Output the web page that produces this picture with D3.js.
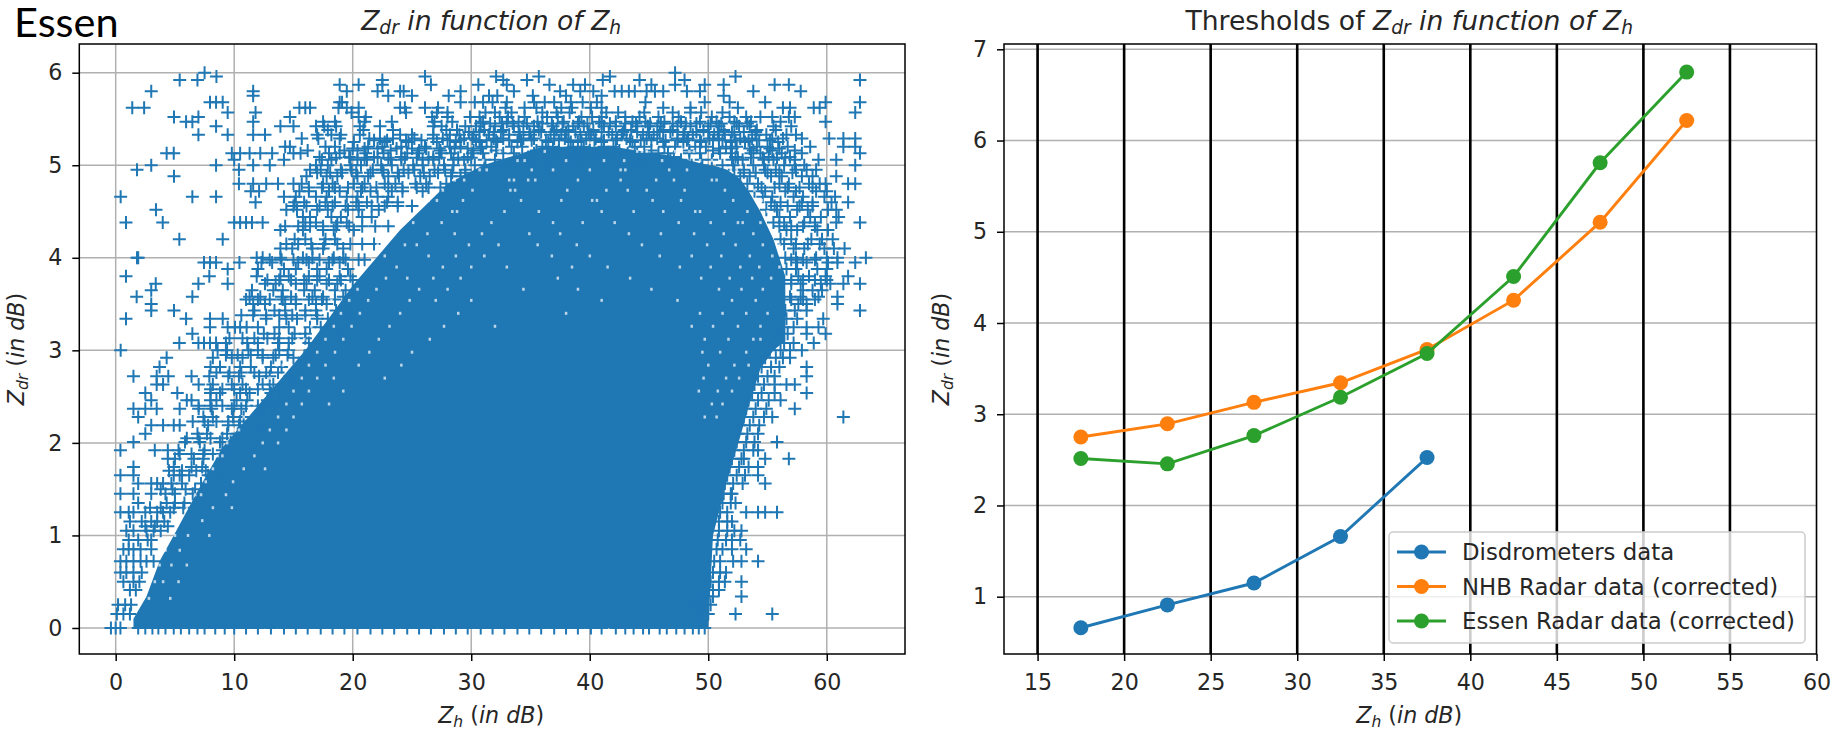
<!DOCTYPE html>
<html>
<head>
<meta charset="utf-8">
<script src="https://cdn.jsdelivr.net/npm/d3@7"></script>
<style>
  html, body { margin: 0; padding: 0; background: #fff; }
  svg { display: block; }
  text { font-family: "DejaVu Sans", sans-serif; fill: #262626; }
</style>
</head>
<body>
<script>
// Right panel data
var binCentres = [17.5, 22.5, 27.5, 32.5, 37.5, 42.5, 47.5, 52.5];
var disdrometers = [0.66, 0.91, 1.15, 1.66, 2.525];
var nhbRadar = [2.75, 2.895, 3.13, 3.345, 3.71, 4.25, 5.105, 6.22];
var essenRadar = [2.515, 2.456, 2.766, 3.186, 3.665, 4.51, 5.756, 6.75];
var seriesNames = ["Disdrometers data", "NHB Radar data (corrected)", "Essen Radar data (corrected)"];
var seriesColors = ["#1f77b4", "#ff7f0e", "#2ca02c"];
var thresholdLines = [15, 20, 25, 30, 35, 40, 45, 50, 55];

// Tick labels
var leftXTicks = [0, 10, 20, 30, 40, 50, 60];
var leftYTicks = [0, 1, 2, 3, 4, 5, 6];
var rightXTicks = [15, 20, 25, 30, 35, 40, 45, 50, 55, 60];
var rightYTicks = [1, 2, 3, 4, 5, 6, 7];

// The reference has far too many overlapping crosses to read one by one.
// The saturated mass is an outline (top and bottom per Zh).
var massZh = [1.5, 2.6, 3.7, 4.9, 7, 9, 12, 14, 16, 18, 20, 22, 24, 26, 28, 31, 36, 42, 47, 50, 50.4, 51.6, 52.7, 53.5, 54.4, 55.5, 56.5];
var massTop = [0.1, 0.34, 0.72, 1.0, 1.5, 1.95, 2.4, 2.7, 3.0, 3.35, 3.7, 4.0, 4.3, 4.55, 4.8, 5.0, 5.2, 5.2, 5.1, 5.0, 5.0, 4.95, 4.85, 4.7, 4.5, 4.2, 3.8];
var massBottom = [0, 0, 0, 0, 0, 0, 0, 0, 0, 0, 0, 0, 0, 0, 0, 0, 0, 0, 0, 0, 1.0, 1.6, 2.07, 2.43, 2.8, 3.0, 3.1];

// Visible crosses, estimated row by row: one Zdr level, then the Zh of its crosses
var rowZdr = [6.0, 5.96, 5.92, 5.87, 5.8, 5.75, 5.68, 5.62, 5.57, 5.52, 5.47, 5.42, 5.38, 5.33, 5.29, 5.25, 5.2, 5.16, 5.13, 5.09, 5.06, 5.0, 4.95, 4.88, 4.8, 4.72, 4.66, 4.6, 4.52, 4.44, 4.38, 4.3, 4.2, 4.1, 4.0, 3.95, 3.88, 3.8, 3.72, 3.65, 3.58, 3.5, 3.43, 3.34, 3.25, 3.18, 3.08, 3.0, 2.92, 2.82, 2.72, 2.63, 2.54, 2.46, 2.37, 2.28, 2.19, 2.1, 2.01, 1.92, 1.83, 1.74, 1.65, 1.56, 1.45, 1.35, 1.25, 1.15, 1.05, 0.95, 0.85, 0.72, 0.6, 0.5, 0.41, 0.34, 0.25, 0.15, 0];
var rowZh = [
  [7.5, 47.2],
  [8.5, 26.1, 32.1, 35.7, 41.7, 52.3],
  [5.4, 6.9, 22.5, 32.7, 34.7, 41.1, 44.2, 48, 62.8],
  [18.9, 20.5, 22.5, 26.6, 30.6, 33, 36.6, 38.6, 39.6, 45.2, 47.2, 49.7, 51.3, 55.6, 56.8],
  [3, 11.6, 19.5, 22.1, 24, 24.3, 29.1, 33.6, 37.5, 39.2, 40.3, 42.1, 42.7, 43.3, 43.8, 44.8, 45.5, 46.2, 48.2, 49.3, 53.8, 57.8],
  [11.6, 23, 25, 28.1, 31.5, 32.2, 35.2, 38, 41, 51.3],
  [7.96, 8.47, 9.03, 18.9, 19.1, 29.1, 30.3, 31, 31.8, 33, 35.3, 36.2, 37, 38.4, 39.4, 40.6, 44.7, 49.7, 51.8, 54.8, 59.9, 62.8],
  [1.4, 2.4, 15.5, 16, 16.4, 18.8, 19.5, 20.5, 24, 24.4, 26.1, 27.2, 32.9, 34.5, 35.5, 37.6, 38.5, 40.1, 41, 46.2, 48.5, 52.5, 56.3, 56.9, 58.9, 59.4],
  [9.45, 11.8, 19.9, 24.5, 27.1, 28, 31.2, 32, 33.4, 36, 37.2, 38.3, 41.4, 42.4, 44.6, 47, 48.5, 49.4, 51.2, 62.4],
  [4.92, 6.98, 14.7, 20.5, 21.1, 26.7, 28, 29.9, 30.7, 32.4, 33.1, 34.5, 36.4, 37.3, 39.3, 40.2, 41, 43, 44.2, 45.8, 47.5, 50.3, 51.8, 53.2, 54.4, 55.4, 56.8, 57.3],
  [5.94, 6.47, 11.6, 17.5, 18.5, 21, 23.3, 26.9, 28.4, 31, 33, 34, 35.6, 37.8, 39.1, 40.8, 42.2, 43.6, 44.7, 46.3, 47.7, 49.3, 50.7, 52.2, 53.6, 56.1, 59.9],
  [8.47, 13.9, 15, 16.9, 17.6, 18.6, 20.6, 22.3, 26.8, 27.5, 29.5, 30.4, 32, 33.6, 34.4, 35.3, 36.9, 38.6, 39.5, 41.2, 42.2, 44, 44.9, 45.7, 47.4, 48.5, 50, 50.9, 52.6, 53.5, 55.5, 57],
  [17.9, 20.9, 23.4, 27.9, 28.8, 31.1, 32.7, 35.7, 37.2, 38.2, 40.3, 42.9, 43.5, 46.2, 47, 49.6, 51.3, 54.1, 55.7],
  [6.98, 9.45, 11.6, 12.6, 17, 18.2, 19, 20.6, 24, 25, 26.8, 28.2, 29, 30.2, 31.5, 33.2, 34.1, 35, 36.7, 37.6, 39.2, 40.1, 41.9, 42.7, 44.5, 45.4, 47.9, 48.7, 50.5, 51.4, 52.2, 54, 54.9, 56.6, 57.4],
  [15.7, 17.1, 18.9, 21.4, 22.3, 23.4, 25.2, 26.8, 27.6, 29.4, 30.1, 31.9, 32.7, 34.4, 35.3, 37, 37.9, 39.7, 40.5, 42.3, 43.1, 44.8, 45.7, 47.4, 48.3, 50.1, 50.9, 52.7, 53.7, 55.4, 56.3, 57.9, 60.2, 61.4, 62.4],
  [20.1, 22.7, 24.7, 27.1, 28.7, 30.7, 32.2, 33.9, 36.5, 38.4, 39, 41, 43.6, 46.2, 47.9, 49.4, 51.9, 53.1, 55.9],
  [14.3, 14.7, 17.7, 18.5, 21.3, 22.5, 24.1, 26.1, 28.2, 29.1, 30.9, 31.7, 33.4, 34.3, 36, 36.9, 38.6, 39.5, 41.2, 42, 43.8, 44.6, 46.3, 47.2, 48.9, 49.8, 51.5, 52.4, 54.1, 55, 56.7, 58.6, 61.4, 62.4],
  [16.2, 19.3, 20.4, 23.2, 25.6, 27.4, 30.2, 32.1, 35.5, 37.4, 40, 42.5, 45.2, 48.4, 50.4, 53.8, 55.4, 57.3],
  [4.3, 4.9, 9.8, 10.5, 11.3, 12.2, 13.2, 15, 15.6, 18, 18.9, 21.1, 22.6, 24.6, 25.5, 27.5, 28.3, 30.1, 31, 32.7, 33.6, 35.3, 36.2, 37.9, 38.8, 40.6, 41.4, 43.2, 44, 45.8, 46.6, 48.4, 49.3, 51, 51.9, 53.6, 54.4, 56.2, 57.9, 62.8],
  [17.2, 19.7, 21.8, 24.1, 26.8, 29.7, 34.8, 39.3, 43.9, 47.1, 52.3, 55.1, 56.9],
  [10, 14.2, 17.4, 18.2, 20.4, 21.2, 23.2, 24.1, 25.9, 26.8, 28.5, 29.4, 31.1, 32, 33.8, 34.6, 36.4, 37.2, 39, 39.9, 41.6, 42.5, 44.2, 45.1, 46.8, 47.7, 49.4, 50.3, 52, 52.9, 54.7, 55.5, 57.3, 59.3, 60.8],
  [3, 8.47, 11.6, 13, 16.9, 17.9, 19.8, 20.7, 22.4, 23.3, 25.1, 25.9, 27.7, 28.5, 30.3, 31.2, 32.9, 33.8, 35.5, 36.4, 38.1, 39, 40.7, 41.6, 43.4, 44.2, 46, 46.8, 48.6, 49.5, 51.2, 52.1, 53.8, 54.7, 56.4, 57.3, 58.1, 62.4],
  [1.8, 10.4, 16.4, 17.3, 19, 19.9, 21.7, 22.5, 24.3, 25.2, 26.9, 27.8, 29.5, 52.2, 53, 54.8, 55.7, 57.4, 58.3, 59.1],
  [4.92, 16.1, 17.8, 18.7, 20.4, 21.3, 23, 23.9, 25.7, 26.5, 28.3, 29.1, 52.7, 53.5, 55.3, 56.2, 57.9, 58.8, 60.8],
  [10.4, 11.6, 12.7, 13.7, 15, 15.7, 17.5, 18.3, 20.1, 21, 22.7, 23.6, 25.3, 26.2, 27.9, 53.3, 54.2, 56, 56.8, 58.5, 59.4, 59.9, 61.8, 62.4],
  [11.4, 12.1, 15.5, 16.3, 18, 18.9, 20.7, 21.5, 23.3, 24.2, 25.9, 53.9, 54.8, 56.5, 57.4, 59.1, 60],
  [0.42, 6.47, 8.47, 14.2, 15.2, 16.9, 17.8, 19.5, 20.4, 22.1, 23, 54.6, 55.4, 57.2, 58, 59.8, 60.7],
  [11.8, 15.1, 15.9, 17.7, 18.5, 20.3, 21.2, 22.9, 23.8, 55.3, 56.1, 57.9, 58.8, 60.4, 61.8],
  [3.4, 14.4, 15.3, 17, 17.9, 19.6, 20.5, 22.2, 54.9, 55.8, 57.5, 58.4, 60.1, 60.8],
  [15.8, 16.4, 18.2, 19, 20.8, 21.6, 56, 56.9, 58.6, 59.5, 61],
  [0.87, 3.97, 10, 10.5, 11, 11.5, 12.4, 16, 16.9, 18.7, 19.5, 55.5, 56.4, 58.1, 59, 60.8, 62.8],
  [13.9, 15.8, 17.5, 18.4, 20.1, 56.6, 57.5, 59.2, 60.1],
  [5.37, 9.03, 15.1, 16, 17.7, 18.5, 56.1, 57, 58.7, 59.6, 60.5],
  [13.9, 14.9, 16.6, 17.5, 19.2, 57.2, 58.1, 59.8, 60.6, 61.5],
  [1.8, 1.9, 11.9, 12.4, 13.9, 15.8, 16.6, 18.4, 19.2, 56.5, 57.4, 59.1, 60, 60.9, 63.3],
  [7.45, 7.96, 8.47, 10.44, 12.3, 13.2, 15.4, 16.3, 18, 18.9, 57.5, 58.3, 60.1, 60.9, 62.4],
  [9.45, 12, 14.2, 15.2, 17, 17.8, 19.6, 56.6, 57.4, 59.2, 60],
  [0.87, 7.9, 11.9, 13.9, 14.6, 16.3, 17.2, 18.9, 19.8, 57.6, 58.5, 59.9, 61.8],
  [3.38, 6.98, 9.45, 12.6, 13.5, 15.2, 16.1, 17.8, 18.7, 57, 57.8, 59.5, 60.3, 61.4, 62.8],
  [3, 11.5, 13.3, 14.1, 15.9, 16.8, 18.5, 19.4, 58, 58.8, 59.6],
  [1.77, 6.47, 11.3, 12.2, 14, 14.8, 16.6, 17.5, 19.2, 56.9, 57.8, 59.3, 60.9],
  [3, 11.6, 12.6, 14.3, 15.2, 16.9, 17.8, 19.5, 57.6, 58.3, 60.9],
  [3, 4.92, 11.7, 13.4, 14.3, 16, 16.9, 18.6, 19.5, 56.5, 57.3, 58.3, 62.8],
  [0.87, 5.94, 7.96, 9.03, 12.7, 14.4, 15.3, 17, 17.9, 19.6, 56.6, 57.5, 59.7],
  [7.96, 9.45, 10.07, 10.5, 11.05, 12, 13.8, 14.6, 16.4, 17.3, 19, 56.4, 57.2, 58.3, 59.3],
  [6.47, 12.5, 13.4, 15.1, 16, 17.7, 18.6, 55.9, 56.7, 58.3, 59.9],
  [5.37, 6.98, 7.45, 7.96, 8.47, 9.3, 11.1, 12, 13.7, 14.6, 16.3, 17.2, 55.6, 56.4, 57.2, 58.9],
  [0.42, 8.6, 9.4, 11.2, 12, 13.8, 14.6, 16.4, 17.2, 55.2, 56.1, 56.9, 57.9],
  [4.3, 8.2, 9.8, 10.7, 12.4, 13.3, 15, 15.9, 54.8, 55.7, 56.3, 56.9],
  [3.7, 8, 8.8, 10.5, 11.4, 13.1, 14, 15.7, 54.5, 55.3, 56, 58.3],
  [1.5, 3.46, 4.44, 6.4, 7.9, 9.5, 10.4, 12.1, 13, 14.7, 15.6, 54.2, 55, 55.6, 58.3],
  [3.46, 4, 7, 8.2, 9.8, 10.7, 12.4, 13.3, 15, 53.9, 54.7, 55.6, 56.6, 57.3],
  [2.5, 5.2, 8, 8.8, 10.5, 11.3, 13.1, 13.9, 53.7, 54.5, 55.6, 58.3],
  [3, 6, 6.4, 8, 8.5, 10.2, 11.1, 12.8, 13.7, 53.4, 54.2, 55.1, 56.1],
  [1.5, 2.5, 3.46, 5.4, 7, 8.1, 9.8, 10.6, 12.4, 13.2, 53.2, 54, 54.9, 57.3],
  [1.9, 7.4, 8.2, 9.9, 10.8, 12.5, 53, 53.8, 54.7, 55.4, 61.4],
  [3, 4, 4.9, 5.4, 7.8, 9.5, 10.4, 12.1, 52.7, 53.5, 54.3],
  [2.5, 6.9, 7.7, 9.4, 10.3, 12, 52.5, 53.3, 54.2],
  [1.5, 5.85, 7.1, 8.8, 9.7, 11.4, 52.4, 53.2, 53.9, 55.8],
  [0.4, 3.3, 4.4, 5.3, 7.5, 9, 9.9, 11.6, 52.2, 53, 53.8, 54.2],
  [4.4, 5, 6.6, 7.4, 9, 9.8, 52, 52.8, 53, 54.8, 56.8],
  [1.5, 4.9, 6.4, 7.3, 8.9, 51.8, 52.6, 53.4, 54.2],
  [0.4, 1.5, 4.9, 5.4, 6.2, 7.8, 8.6, 51.6, 52.4, 53.1, 54.2],
  [1.9, 3, 3.5, 4, 4.7, 5.6, 7.2, 51.4, 52.1, 52.9, 54.8],
  [0.4, 1.5, 3, 4.2, 5, 6.5, 51.3, 52, 51.9],
  [1.9, 4.3, 5, 5.8, 51.2, 51.9, 52.3],
  [0.4, 1.1, 1.5, 2.5, 3.5, 4, 4.6, 51, 51.6, 55.8, 54.2, 54.8, 53.2],
  [1.2, 2.2, 3, 3.5, 4.1, 50.9, 51.6, 52],
  [0.9, 1.5, 2.6, 3.2, 3.8, 50.9, 51.6, 52.2, 52.8],
  [1.1, 1.9, 2.7, 3, 50.8, 51.5, 52, 52.7],
  [0.65, 1.1, 1.5, 2.1, 3, 50.7, 51.2, 52, 53.2],
  [0.4, 0.9, 1.5, 2.1, 2.6, 3.2, 50.5, 51, 52.1, 52.8, 54.2],
  [0.4, 0.9, 1.5, 2.2, 50.4, 51, 51.5],
  [0.65, 1.5, 2, 50.2, 50.9, 51.4, 52.8],
  [1.2, 1.7, 49.8, 50.4, 50.9],
  [49.3, 49.9, 50.4, 52.8],
  [0.2, 0.8, 1.3, 48.7, 49.2, 49.7, 50.2],
  [0.1, 0.65, 1.2, 48.5, 49, 49.5, 50, 52.3, 55.4],
  [-0.4, 0, 0.4, 1.9, 2.5, 3.1, 3.6, 4.2, 4.9, 5.5, 6.2, 6.9, 7.5, 8.4, 9.2, 10, 11, 12, 13.1, 14.2, 15.2, 16.2, 17.3, 18.3, 19.3, 20.4, 21.5, 22.5, 23.5, 24.6, 25.6, 26.6, 27.7, 28.7, 29.7, 30.8, 31.8, 32.8, 33.9, 34.9, 35.9, 37, 38, 39, 40.1, 41, 42.2, 43, 43.7, 44.5, 45, 45.9, 46.5, 47.3, 48, 48.7, 49.2, 49.7]
];

// Second pass over the denser mesh around the mass
var fillZdr = [5.45, 5.36, 5.27, 5.18, 5.08, 4.92, 4.76, 4.56, 4.34, 4.15, 3.98, 3.76, 3.55, 3.38, 3.13, 2.95, 2.76, 2.58, 2.4, 2.23, 2.05, 1.88, 1.7, 1.5, 1.3, 1.1];
var fillZh = [
  [30.8, 31.6, 32.6, 33.5, 34.7, 36, 36.8, 37.7, 39, 39.8, 41, 41.7, 43, 43.9, 45.1, 46, 47, 48.1, 49, 50.2, 51.1, 52.4, 53.3],
  [29.8, 30.7, 31.9, 32.5, 34, 34.9, 35.9, 37, 38, 38.8, 39.9, 41, 41.6, 42.8, 44, 45, 45.9, 46.8, 48, 49, 50, 50.8, 52, 53, 54],
  [21.8, 22.9, 24.5, 25.8, 28, 29.1, 30.4, 31.3, 32.1, 33.2, 34.2, 35.1, 36.3, 37.4, 38.2, 39.3, 40.4, 41.2, 42.2, 43.4, 44.3, 45.2, 46.4, 47.4, 48.2, 49.3, 50.4, 51.2, 52.3, 53.4, 54.3, 55.2],
  [20, 21, 22.1, 23.7, 25, 26.2, 27.3, 28.6, 29.7, 30.8, 50.9, 52, 53.5, 55.2, 56],
  [18.6, 19.8, 21, 22.1, 23, 24.4, 25.4, 26.4, 27.3, 28.9, 30, 52.5, 53.6, 54.6, 55.8, 56.5],
  [17, 18.1, 19.1, 20.3, 21.5, 22.6, 23.8, 24.7, 26, 27.2, 28.4, 29.5, 53, 54, 55, 56, 57.1],
  [16.3, 17.4, 18.5, 19.6, 20.8, 22, 23, 24.2, 25.4, 26.4, 27.4, 54.5, 55.6, 56.7, 57.7, 58.8],
  [15, 16.1, 17.2, 18.3, 19.4, 20.5, 21.6, 22.7, 23.8, 25, 55.6, 56.7, 57.7, 58.8],
  [14.3, 15.4, 16.4, 17.5, 18.6, 19.7, 20.8, 21.9, 23, 56, 57, 58, 59],
  [14.4, 15.4, 16.5, 17.6, 18.7, 19.8, 20.8, 21.8, 56.4, 57.4, 58.4, 59.4],
  [13, 14, 15, 16.1, 17.2, 18.3, 19.4, 20.5, 21, 57, 58, 59],
  [12.8, 13.8, 14.8, 15.9, 17, 18, 19, 20, 57, 58, 59, 60],
  [11, 12, 13, 14.1, 15.2, 16.3, 17.4, 18.5, 57, 58, 59],
  [10.6, 11.6, 12.7, 13.8, 14.9, 16, 17],
  [9.6, 10.7, 11.7, 12.8, 13.8, 14.9, 16],
  [9.3, 10.3, 11.4, 12.4, 13.5, 14.5],
  [8.5, 9.6, 10.6, 11.7, 12.7, 13.7],
  [8, 9, 10, 11, 12, 13],
  [7, 8, 9, 10, 11, 12],
  [6.5, 7.5, 8.5, 9.5, 10.5],
  [6, 7, 8, 9],
  [5.4, 6.4, 7.4, 8.2],
  [4.5, 5.6, 6.8, 7.6],
  [3.8, 4.8, 5.9, 6.7],
  [2.9, 3.8, 4.9, 5.7],
  [2.5, 3.3, 4.4]
];

// Small white gaps left between the crosses inside the mass, estimated the same way
var gapZdr = [5.15, 5.05, 4.95, 4.84, 4.73, 4.62, 4.5, 4.38, 4.26, 4.14, 4.02, 3.9, 3.78, 3.66, 3.54, 3.4, 3.26, 3.12, 2.98, 2.84, 2.7, 2.56, 2.42, 2.28, 2.14, 2, 1.86, 1.72, 1.58, 1.44, 1.3, 1.16, 1, 0.84, 0.68, 0.5, 0.32];
var gapZh = [
  [32.4, 33.1, 36.2, 44, 44.4, 44.8, 47.2, 48.4, 48.8],
  [31, 33.9, 34.5, 38, 41.2, 42.9, 46.1, 49.3, 50.3],
  [30.7, 31.3, 35.1, 36.9, 40, 42.6, 43, 46.7, 48.2, 51.9, 52.4],
  [28.6, 29.4, 33.2, 33.6, 34.8, 35.4, 39, 42.6, 45.6, 47.1, 50.3, 50.7, 53],
  [27.6, 30.1, 33.3, 33.7, 38.1, 41.4, 43.2, 44.8, 48, 51.4, 53.9],
  [26.4, 27.1, 29.3, 34.2, 37.6, 40.2, 40.6, 45.3, 47.7, 52.1, 54.5],
  [25.2, 28.4, 28.8, 32.8, 35.7, 41, 43.7, 46.2, 48.9, 49.3, 51.4, 53.3, 55],
  [24.3, 25.1, 27.5, 31.7, 36.9, 39.4, 42.1, 47.5, 50.2, 52.5, 52.9, 54.4],
  [23, 23.5, 26.3, 28.6, 30.9, 34.9, 37.5, 43.3, 46, 48.8, 51.3, 53.8, 55.6],
  [22.1, 24.4, 25.4, 29.8, 32.3, 35.6, 38.9, 44.4, 49.9, 52.3, 54.6, 56],
  [21.5, 22.7, 26.4, 28.7, 31.1, 36.8, 40, 45.9, 48.6, 51.1, 53.5, 55.4],
  [20.3, 20.8, 23.7, 27.6, 30, 33, 38.5, 41.5, 47.6, 50.2, 52.7, 54.3, 56],
  [19.6, 22.8, 24.6, 26.8, 29.1, 37.3, 43.4, 49.4, 51.8, 53.7, 55.3],
  [18.9, 20.4, 22, 25.6, 28, 34.4, 39, 45.2, 50.9, 52.8, 54.6],
  [18.2, 19.7, 21.3, 24.8, 27, 30, 41, 47.4, 52, 54],
  [17.3, 17.7, 19, 20.6, 24, 28.9, 38, 49.3, 51.2, 53.2, 55],
  [16.5, 18.4, 19.9, 23.1, 27.7, 32, 48.6, 50.4, 52.5, 54.4],
  [15.4, 15.9, 17.7, 19.2, 22.2, 26.5, 49.7, 51.7, 53.8, 54.4],
  [14.7, 17, 18.5, 21.4, 25, 49.5, 51, 53.2],
  [13.6, 14.1, 16.3, 17.7, 20.5, 24.1, 50, 52.2, 53.4],
  [13, 15.7, 17, 18.4, 22.7, 49.6, 51.5, 52.6],
  [12.3, 15, 16.3, 19.2, 49.2, 50.8, 52],
  [11.2, 11.7, 14.4, 15.7, 18, 50.3, 51.2],
  [10.8, 13.7, 15, 49.7, 50.7],
  [10, 10.4, 13, 14.4],
  [9.4, 12.4, 13.7],
  [8.6, 9, 11.7],
  [8.2, 10.8, 12.6],
  [7.6, 9.9],
  [6.7, 7.2, 9.3],
  [6, 8.2, 9.8],
  [5.3, 7.3],
  [5, 6.1, 7.9],
  [4.2, 5.4],
  [3.7, 4.7, 6],
  [3.3, 4, 5.3],
  [2.8, 4.6]
];

var width = 1839, height = 731;
var plotTop = 44, plotBottom = 654;
var tickLen = 7;
var blue = "#1f77b4";
var smallFont = "22.2px";

var svg = d3.select("body").append("svg")
    .attr("width", width)
    .attr("height", height);

// Corner label added on top of the figure
svg.append("text")
    .attr("x", 14)
    .attr("y", 37)
    .style("font-family", "Lato, sans-serif")
    .style("font-size", "41.5px")
    .style("fill", "#000")
    .text("Essen");

// Scales
var x1 = d3.scaleLinear().domain([-3.07, 66.6]).range([79.3, 905]);
var y1 = d3.scaleLinear().domain([-0.281, 6.31]).range([plotBottom, plotTop]);
var x2 = d3.scaleLinear().domain([13.06, 60]).range([1004, 1816.5]);
var y2 = d3.scaleLinear().domain([0.372, 7.058]).range([plotBottom, plotTop]);

// Writes Z_dr / Z_h style math into a text node
function mathText(sel, parts) {
  parts.forEach(function(p) {
    var t = sel.append("tspan").text(p.t);
    if (p.it) t.style("font-style", "italic");
    if (p.sub) {
      t.attr("baseline-shift", "-22%").style("font-size", "70%");
    }
  });
}

function drawFrame(x, y, xTicks, yTicks, titleParts, yPad) {
  var left = x.range()[0], right = x.range()[1];

  // Grid
  svg.append("g").selectAll("line").data(xTicks).enter().append("line")
      .attr("x1", function(d) {return x(d)})
      .attr("x2", function(d) {return x(d)})
      .attr("y1", plotTop)
      .attr("y2", plotBottom)
      .attr("stroke", "#b0b0b0")
      .attr("stroke-width", 1.5);
  svg.append("g").selectAll("line").data(yTicks).enter().append("line")
      .attr("x1", left)
      .attr("x2", right)
      .attr("y1", function(d) {return y(d)})
      .attr("y2", function(d) {return y(d)})
      .attr("stroke", "#b0b0b0")
      .attr("stroke-width", 1.5);

  // Title and axis labels
  var title = svg.append("text")
      .attr("x", (left + right) / 2 - 1)
      .attr("y", 30)
      .attr("text-anchor", "middle")
      .style("font-size", "26.6px");
  mathText(title, titleParts);

  var xl = svg.append("text")
      .attr("x", (left + right) / 2 - 1)
      .attr("y", 723)
      .attr("text-anchor", "middle")
      .style("font-size", smallFont);
  mathText(xl, [{t: "Z", it: 1}, {t: "h", it: 1, sub: 1}, {t: " (", it: 0}, {t: "in dB", it: 1}, {t: ")", it: 0}]);

  var yl = svg.append("text")
      .attr("transform", "translate(" + (left - yPad) + "," + ((plotTop + plotBottom) / 2) + ") rotate(-90)")
      .attr("text-anchor", "middle")
      .style("font-size", smallFont);
  mathText(yl, [{t: "Z", it: 1}, {t: "dr", it: 1, sub: 1}, {t: " (", it: 0}, {t: "in dB", it: 1}, {t: ")", it: 0}]);
}

function drawAxes(x, y, xTicks, yTicks) {
  var left = x.range()[0], right = x.range()[1];

  var gx = svg.append("g")
      .attr("transform", "translate(0," + plotBottom + ")")
      .call(d3.axisBottom(x).tickValues(xTicks).tickFormat(d3.format("d")).tickSize(tickLen).tickPadding(13).tickSizeOuter(0));
  var gy = svg.append("g")
      .attr("transform", "translate(" + left + ",0)")
      .call(d3.axisLeft(y).tickValues(yTicks).tickFormat(d3.format("d")).tickSize(tickLen).tickPadding(10).tickSizeOuter(0));
  [gx, gy].forEach(function(g) {
    g.select(".domain").remove();
    g.selectAll("line").attr("stroke", "#000").attr("stroke-width", 1.5);
    g.selectAll("text").style("font-size", smallFont).style("font-family", '"DejaVu Sans", sans-serif').attr("fill", "#262626");
  });

  svg.append("rect")
      .attr("x", left)
      .attr("y", plotTop)
      .attr("width", right - left)
      .attr("height", plotBottom - plotTop)
      .attr("fill", "none")
      .attr("stroke", "#000")
      .attr("stroke-width", 1.5);
}

// Flattens one Zdr list and its Zh rows into points
function toPoints(levels, rows) {
  var points = [];
  levels.forEach(function(zdr, i) {
    rows[i].forEach(function(zh) {
      points.push({zh: zh, zdr: zdr});
    });
  });
  return points;
}

// ----- Left panel
drawFrame(x1, y1, leftXTicks, leftYTicks,
  [{t: "Z", it: 1}, {t: "dr", it: 1, sub: 1}, {t: " in function of Z", it: 1}, {t: "h", it: 1, sub: 1}], 55);

var mass = d3.area()
    .x(function(d) {return x1(d)})
    .y0(function(d, i) {return y1(massBottom[i])})
    .y1(function(d, i) {return y1(massTop[i])});

svg.append("path")
    .attr("d", mass(massZh))
    .attr("fill", blue);

var crosses = toPoints(rowZdr, rowZh).concat(toPoints(fillZdr, fillZh));

svg.append("g").selectAll("path").data(crosses).enter().append("path")
    .attr("d", "M-6.5,0H6.5M0,-6.5V6.5")
    .attr("transform", function(d) {return "translate(" + x1(d.zh) + "," + y1(d.zdr) + ")"})
    .attr("fill", "none")
    .attr("stroke", blue)
    .attr("stroke-width", 2);

svg.append("g").selectAll("rect").data(toPoints(gapZdr, gapZh)).enter().append("rect")
    .attr("x", function(d) {return x1(d.zh) - 1.2})
    .attr("y", function(d) {return y1(d.zdr) - 1.5})
    .attr("width", 2.5)
    .attr("height", 3)
    .attr("fill", "#fff")
    .attr("fill-opacity", 0.7);

drawAxes(x1, y1, leftXTicks, leftYTicks);

// ----- Right panel
drawFrame(x2, y2, rightXTicks, rightYTicks,
  [{t: "Thresholds of ", it: 0}, {t: "Z", it: 1}, {t: "dr", it: 1, sub: 1}, {t: " in function of Z", it: 1}, {t: "h", it: 1, sub: 1}], 55);

svg.append("g").selectAll("line").data(thresholdLines).enter().append("line")
    .attr("x1", function(d) {return x2(d)})
    .attr("x2", function(d) {return x2(d)})
    .attr("y1", plotTop)
    .attr("y2", plotBottom)
    .attr("stroke", "#000")
    .attr("stroke-width", 2.6);

var line = d3.line()
    .x(function(d, i) {return x2(binCentres[i])})
    .y(function(d) {return y2(d)});

[disdrometers, nhbRadar, essenRadar].forEach(function(values, s) {
  svg.append("path")
      .attr("d", line(values))
      .attr("fill", "none")
      .attr("stroke", seriesColors[s])
      .attr("stroke-width", 2.9);
  svg.append("g").selectAll("circle").data(values).enter().append("circle")
      .attr("cx", function(d, i) {return x2(binCentres[i])})
      .attr("cy", function(d) {return y2(d)})
      .attr("r", 7.5)
      .attr("fill", seriesColors[s]);
});

drawAxes(x2, y2, rightXTicks, rightYTicks);

// Legend
var legend = svg.append("g");
legend.append("rect")
    .attr("x", 1389)
    .attr("y", 532)
    .attr("width", 416)
    .attr("height", 111)
    .attr("rx", 4)
    .attr("fill", "#fff")
    .attr("fill-opacity", 0.8)
    .attr("stroke", "#ccc")
    .attr("stroke-width", 1.5);

var rows = legend.selectAll("g").data(seriesNames).enter().append("g")
    .attr("transform", function(d, i) {return "translate(0," + (552 + i * 34.5) + ")"});
rows.append("line")
    .attr("x1", 1397)
    .attr("x2", 1446)
    .attr("stroke", function(d, i) {return seriesColors[i]})
    .attr("stroke-width", 2.9);
rows.append("circle")
    .attr("cx", 1421.5)
    .attr("r", 7.5)
    .attr("fill", function(d, i) {return seriesColors[i]});
rows.append("text")
    .attr("x", 1462)
    .attr("y", 8)
    .style("font-size", "22.8px")
    .text(function(d) {return d});
</script>
</body>
</html>
